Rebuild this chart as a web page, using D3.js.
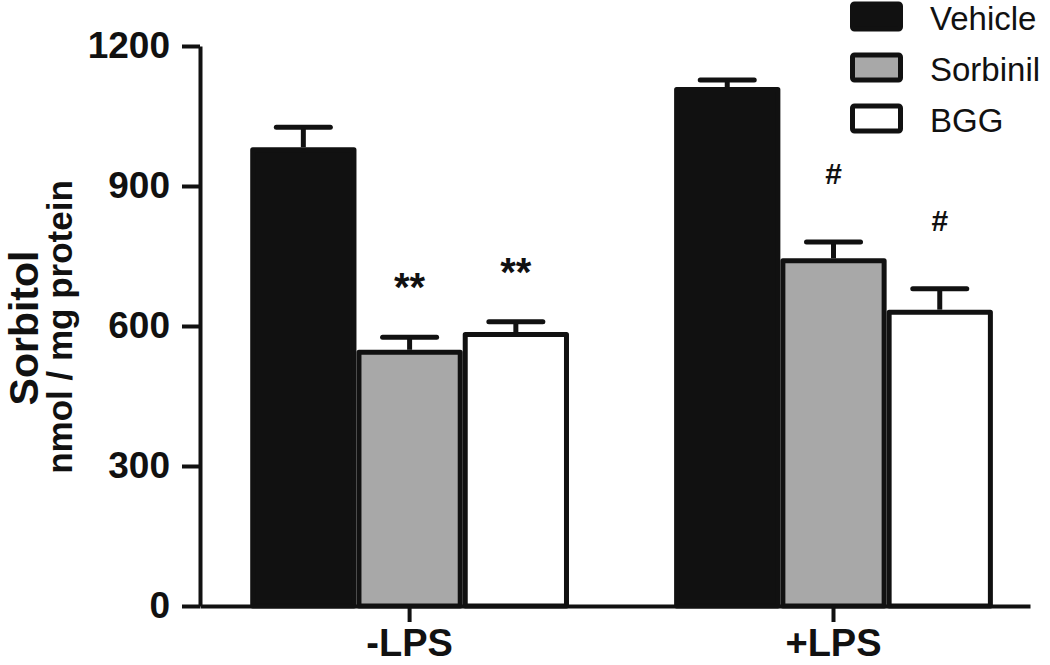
<!DOCTYPE html>
<html>
<head>
<meta charset="utf-8">
<script src="https://cdn.jsdelivr.net/npm/d3@7"></script>
<style>
  body { margin: 0; background: #fff; }
  svg { display: block; font-family: "Liberation Sans", Arial, sans-serif; }
</style>
</head>
<body>
<svg id="chart" width="1050" height="665"></svg>
<script>
// data
const groups = ["-LPS", "+LPS"];
const series = ["Vehicle", "Sorbinil", "BGG"];
const means = [
  [983, 549, 587],   // -LPS
  [1112, 745, 635]   // +LPS
];
const errors = [
  [43, 27, 22],
  [15, 35, 45]
];
const marks = [
  ["", "**", "**"],
  ["", "#", "#"]
];
const yTicks = [0, 300, 600, 900, 1200];
const fills = ["#111111", "#a8a8a8", "#ffffff"];

const svg = d3.select("#chart");
const plotLeft = 200, plotRight = 1030, plotTop = 46, plotBottom = 606;

const y = d3.scaleLinear().domain([0, 1200]).range([plotBottom, plotTop]);
const x0 = d3.scaleBand().domain(groups).range([plotLeft, plotRight])
  .paddingInner(0.248).paddingOuter(0.103).align(0.575);
const x1 = d3.scaleBand().domain(series).range([0, x0.bandwidth()]);
const color = d3.scaleOrdinal().domain(series).range(fills);

// bars
const g = svg.append("g");
groups.forEach((grp, gi) => {
  series.forEach((s, si) => {
    const bx = x0(grp) + x1(s);
    const v = means[gi][si];
    const e = errors[gi][si];
    const cx = bx + x1.bandwidth() / 2;
    // error bar (drawn first so bar covers lower part)
    g.append("line")
      .attr("x1", cx).attr("x2", cx)
      .attr("y1", y(v)).attr("y2", y(v + e))
      .attr("stroke", "#111").attr("stroke-width", 5);
    g.append("line")
      .attr("x1", cx - 27).attr("x2", cx + 27)
      .attr("y1", y(v + e)).attr("y2", y(v + e))
      .attr("stroke", "#111").attr("stroke-width", 5)
      .attr("stroke-linecap", "round");
    g.append("rect")
      .attr("x", bx + 2.5).attr("y", y(v) + 2.5)
      .attr("width", x1.bandwidth() - 5)
      .attr("height", y(0) - y(v) - 2.5)
      .attr("fill", color(s))
      .attr("stroke", "#111").attr("stroke-width", 5)
      .attr("stroke-linejoin", "round");
    if (marks[gi][si]) {
      const isStar = marks[gi][si] === "**";
      g.append("text")
        .attr("x", cx)
        .attr("y", y(v + e) - (isStar ? 36 : 58))
        .attr("text-anchor", "middle")
        .attr("font-size", isStar ? 40 : 30)
        .attr("font-weight", "bold")
        .attr("fill", "#111")
        .text(marks[gi][si]);
    }
  });
});

// y axis
const yAxis = svg.append("g")
  .attr("transform", `translate(${plotLeft},0)`)
  .call(d3.axisLeft(y).tickValues(yTicks).tickFormat(d3.format("d"))
    .tickSize(18).tickPadding(12).tickSizeOuter(0));
yAxis.select(".domain").attr("stroke", "#111").attr("stroke-width", 4);
yAxis.selectAll(".tick line").attr("stroke", "#111").attr("stroke-width", 4);
yAxis.selectAll(".tick text")
  .attr("font-size", 37).attr("font-weight", "bold").attr("fill", "#111")
  .attr("font-family", "Liberation Sans, Arial, sans-serif");

// x axis
const xAxis = svg.append("g")
  .attr("transform", `translate(0,${plotBottom})`)
  .call(d3.axisBottom(x0).tickSize(16).tickPadding(7).tickSizeOuter(0));
xAxis.select(".domain").attr("stroke", "#111").attr("stroke-width", 4);
xAxis.selectAll(".tick line").attr("stroke", "#111").attr("stroke-width", 4);
xAxis.selectAll(".tick text")
  .attr("font-size", 38).attr("font-weight", "bold").attr("fill", "#111")
  .attr("font-family", "Liberation Sans, Arial, sans-serif");

// y title
svg.append("text")
  .attr("transform", "translate(38,328) rotate(-90)")
  .attr("text-anchor", "middle")
  .attr("font-size", 41).attr("font-weight", "bold").attr("fill", "#111")
  .text("Sorbitol");
svg.append("text")
  .attr("transform", "translate(72,327) rotate(-90)")
  .attr("text-anchor", "middle")
  .attr("font-size", 35).attr("font-weight", "bold").attr("fill", "#111")
  .text("nmol / mg protein");

// legend
const legend = svg.append("g").attr("transform", "translate(850,3)");
series.forEach((s, i) => {
  const row = legend.append("g").attr("transform", `translate(0,${i * 51})`);
  row.append("rect")
    .attr("x", 2.5).attr("y", 1).attr("width", 48).attr("height", 25)
    .attr("rx", 2)
    .attr("fill", color(s)).attr("stroke", "#111").attr("stroke-width", 5);
  row.append("text")
    .attr("x", 80).attr("y", 27)
    .attr("font-size", 33).attr("fill", "#111")
    .text(s);
});
</script>
</body>
</html>
